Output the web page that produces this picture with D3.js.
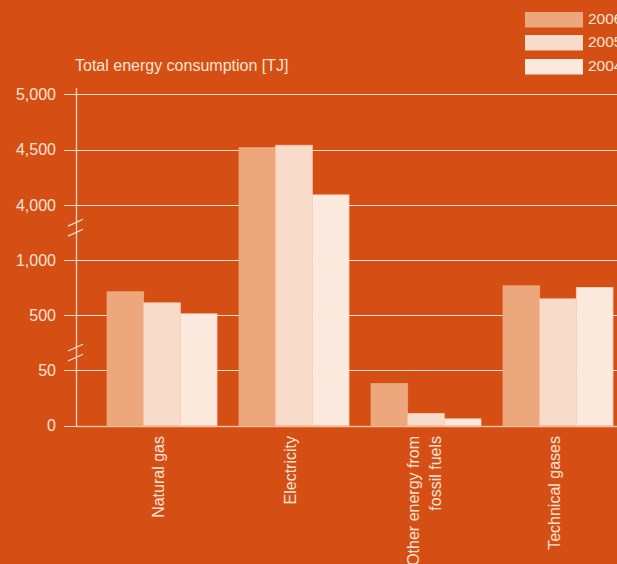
<!DOCTYPE html>
<html>
<head>
<meta charset="utf-8">
<script src="https://cdn.jsdelivr.net/npm/d3@7"></script>
<style>
  html, body { margin: 0; padding: 0; background: #d54f14; overflow: hidden; }
  svg { display: block; }
  text { font-family: "Liberation Sans", Arial, Helvetica, sans-serif; fill: #fbe3d4; }
</style>
</head>
<body>
<svg id="chart" width="617" height="564"></svg>
<script>
// ---- data ----
const categories = ["Natural gas", "Electricity", "Other energy from\nfossil fuels", "Technical gases"];
const seriesNames = ["2006", "2005", "2004"];
const values2006 = [712, 4518, 38, 766];
const values2005 = [612, 4540, 11, 648];
const values2004 = [512, 4090, 6, 751];
const tickValues = [0, 50, 500, 1000, 4000, 4500, 5000];
const axisTitle = "Total energy consumption [TJ]";
// axis breaks: between these tick pairs
const breaks = [[50, 500, 0.32], [1000, 4000, 0.585]];

const series = [values2006, values2005, values2004];
const colors = ["#eca77c", "#f8dcc9", "#fce9dd"];
const strokes = ["#eca77c", "#f3c7ab", "#f6d3bd"];

const W = 617, H = 564;
const svg = d3.select("#chart");
svg.append("rect").attr("width", W).attr("height", H).attr("fill", "#d54f14");

const y0 = 425.5, step = 55.17;
const y = d3.scaleLinear()
  .domain(tickValues)
  .range(tickValues.map((d, i) => y0 - i * step));

const x = d3.scaleBand()
  .domain(categories)
  .range([96, 624])
  .paddingInner(1 / 6)
  .paddingOuter(1 / 12);

const xs = d3.scaleBand()
  .domain(d3.range(seriesNames.length))
  .range([0, x.bandwidth()]);

const axisX = 76.5;

// gridlines
const grid = svg.append("g");
grid.selectAll("line").data(tickValues).join("line")
  .attr("x1", 64).attr("x2", W)
  .attr("y1", d => Math.round(y(d)) + 0.5)
  .attr("y2", d => Math.round(y(d)) + 0.5)
  .attr("stroke", "#fbe0cf").attr("stroke-width", 1);

// bars
const groups = svg.append("g").selectAll("g").data(series).join("g");
groups.each(function (vals, si) {
  d3.select(this).selectAll("rect").data(vals).join("rect")
    .attr("x", (d, i) => x(categories[i]) + xs(si))
    .attr("width", xs.bandwidth())
    .attr("y", d => y(d))
    .attr("height", d => y(0) - y(d))
    .attr("fill", colors[si])
    .attr("stroke", strokes[si])
    .attr("stroke-width", 0.8);
});

// y-axis line
svg.append("line")
  .attr("x1", axisX).attr("x2", axisX)
  .attr("y1", 88).attr("y2", Math.round(y(0)) + 0.5)
  .attr("stroke", "#f8d8c4").attr("stroke-width", 1.3);

// bottom baseline
svg.append("line")
  .attr("x1", axisX).attr("x2", W)
  .attr("y1", Math.round(y(0)) + 0.5).attr("y2", Math.round(y(0)) + 0.5)
  .attr("stroke", "#f4bd9f").attr("stroke-width", 1.5);

// tick labels
svg.append("g").selectAll("text").data(tickValues).join("text")
  .attr("x", 56)
  .attr("y", d => y(d))
  .attr("dy", "0.36em")
  .attr("text-anchor", "end")
  .attr("font-size", 16)
  .text(d => d3.format(",")(d));

// axis break marks
breaks.forEach(([a, b, f]) => {
  const c = y(a) + (y(b) - y(a)) * f;
  [-5, 5].forEach(off => {
    svg.append("line")
      .attr("x1", 68).attr("y1", c + off + 3.4)
      .attr("x2", 83).attr("y2", c + off - 3.4)
      .attr("stroke", "#fbe3d4").attr("stroke-width", 1.2);
  });
});

// axis title
svg.append("text")
  .attr("x", 75).attr("y", 71)
  .attr("font-size", 16)
  .text(axisTitle);

// category labels (rotated)
categories.forEach(cat => {
  const lines = cat.split("\n");
  const cx = x(cat) + x.bandwidth() / 2;
  const offs = lines.length === 1 ? [2] : [-7, 15];
  lines.forEach((ln, i) => {
    svg.append("text")
      .attr("transform", `translate(${cx + offs[i]},436) rotate(-90)`)
      .attr("text-anchor", "end")
      .attr("font-size", 16)
      .text(ln);
  });
});

// legend
const legY = [12, 35, 59];
seriesNames.forEach((s, i) => {
  svg.append("rect")
    .attr("x", 525).attr("y", legY[i])
    .attr("width", 58).attr("height", 15.5)
    .attr("fill", colors[i]);
  svg.append("text")
    .attr("x", 588).attr("y", legY[i] + 7.5)
    .attr("dy", "0.3em")
    .attr("font-size", 15.5)
    .text(s);
});
</script>
</body>
</html>
